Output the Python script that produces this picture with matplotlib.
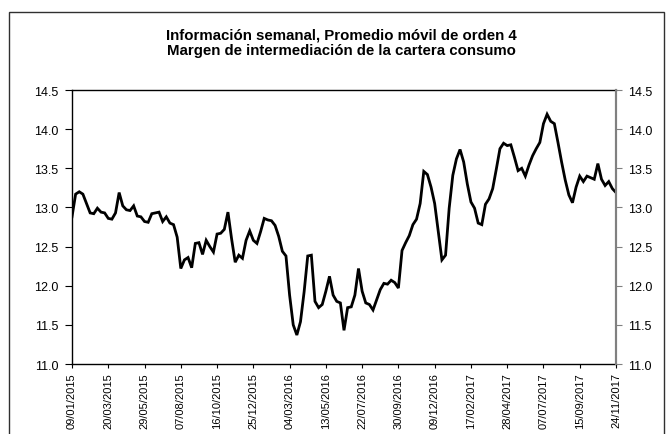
import matplotlib
matplotlib.use("Agg")
import matplotlib.pyplot as plt
import pandas as pd
from matplotlib.patches import Rectangle

plt.rcParams['font.family'] = ['Liberation Sans', 'DejaVu Sans']

title_line1 = "Información semanal, Promedio móvil de orden 4"
title_line2 = "Margen de intermediación de la cartera consumo"

start_date = "2015-01-09"
values = [
    12.88, 13.17, 13.20, 13.17, 13.05, 12.93, 12.92, 12.99, 12.94, 12.93,
    12.86, 12.85, 12.93, 13.19, 13.02, 12.97, 12.96, 13.02, 12.89, 12.88,
    12.82, 12.81, 12.92, 12.93, 12.94, 12.82, 12.88, 12.80, 12.78, 12.62,
    12.22, 12.33, 12.36, 12.23, 12.54, 12.55, 12.40, 12.58, 12.50, 12.43,
    12.66, 12.67, 12.72, 12.94, 12.60, 12.30, 12.39, 12.35, 12.58, 12.70,
    12.58, 12.54, 12.69, 12.86, 12.84, 12.83, 12.77, 12.63, 12.44, 12.38,
    11.88, 11.50, 11.37, 11.54, 11.92, 12.38, 12.39, 11.80, 11.72, 11.76,
    11.93, 12.12, 11.88, 11.80, 11.78, 11.43, 11.72, 11.73, 11.88, 12.22,
    11.93, 11.78, 11.76, 11.69, 11.82, 11.95, 12.03, 12.02, 12.07, 12.04,
    11.97, 12.45, 12.55, 12.64, 12.78, 12.85, 13.05, 13.46, 13.42, 13.26,
    13.05, 12.69, 12.33, 12.39, 12.99, 13.41, 13.62, 13.74, 13.58, 13.30,
    13.07, 12.99, 12.80, 12.78, 13.04, 13.11, 13.24, 13.49, 13.75, 13.82,
    13.79, 13.80, 13.64, 13.47, 13.50, 13.40, 13.54, 13.66, 13.75, 13.83,
    14.07, 14.19, 14.10, 14.07, 13.83, 13.58, 13.35, 13.16, 13.06, 13.26,
    13.40, 13.33, 13.40, 13.38, 13.36, 13.56, 13.36, 13.28, 13.33, 13.24,
    13.19,
]
dates = pd.date_range(start_date, periods=len(values), freq="7D")
tick_dates = dates[::10]
tick_labels = [d.strftime("%d/%m/%Y") for d in tick_dates]
y_ticks = [11.0, 11.5, 12.0, 12.5, 13.0, 13.5, 14.0, 14.5]

W, H = 671, 435
fig = plt.figure(figsize=(W / 100, H / 100), dpi=100)
fig.patch.set_facecolor("white")

left, right, top, bottom = 72, 616, 91, 365
ax = fig.add_axes([left / W, 1 - bottom / H, (right - left) / W, (bottom - top) / H])

ax.plot(dates, values, color="black", lw=2.0, solid_joinstyle="miter")
ax.set_xlim(dates[0], dates[-1])
ax.set_ylim(11.0, 14.5)
ax.set_yticks(y_ticks)
ax.set_yticklabels([f"{v:.1f}" for v in y_ticks], fontsize=9)
ax.set_xticks(tick_dates)
ax.set_xticklabels(tick_labels, rotation=90, fontsize=8)
ax.tick_params(axis="y", direction="out", length=5, width=0.8, pad=5, colors="black")
ax.tick_params(axis="x", direction="out", length=3, width=0.8, pad=3)
for s in ["left", "bottom", "top"]:
    ax.spines[s].set_color("black")
    ax.spines[s].set_linewidth(1.0)
ax.spines["right"].set_color("#808080")
ax.spines["right"].set_linewidth(1.5)

ax2 = ax.twinx()
ax2.set_ylim(11.0, 14.5)
ax2.set_yticks(y_ticks)
ax2.set_yticklabels([f"{v:.1f}" for v in y_ticks], fontsize=9)
ax2.tick_params(axis="y", direction="out", length=4, width=0.8, pad=5,
                color="#808080", labelcolor="black")
ax2.spines["right"].set_color("#808080")
ax2.spines["right"].set_linewidth(1.5)
for s in ["left", "bottom", "top"]:
    ax2.spines[s].set_visible(False)

fig.text(341 / W, 1 - 36 / H, title_line1, ha="center", va="center",
         fontsize=10.8, fontweight="bold")
fig.text(341 / W, 1 - 50.5 / H, title_line2, ha="center", va="center",
         fontsize=10.8, fontweight="bold")

fig.patches.append(Rectangle((9 / W, -0.02), (664 - 9) / W, 1.02 - 12.5 / H,
                             transform=fig.transFigure, fill=False,
                             edgecolor="#303030", linewidth=1.0))

fig.savefig("out.png", dpi=100)
